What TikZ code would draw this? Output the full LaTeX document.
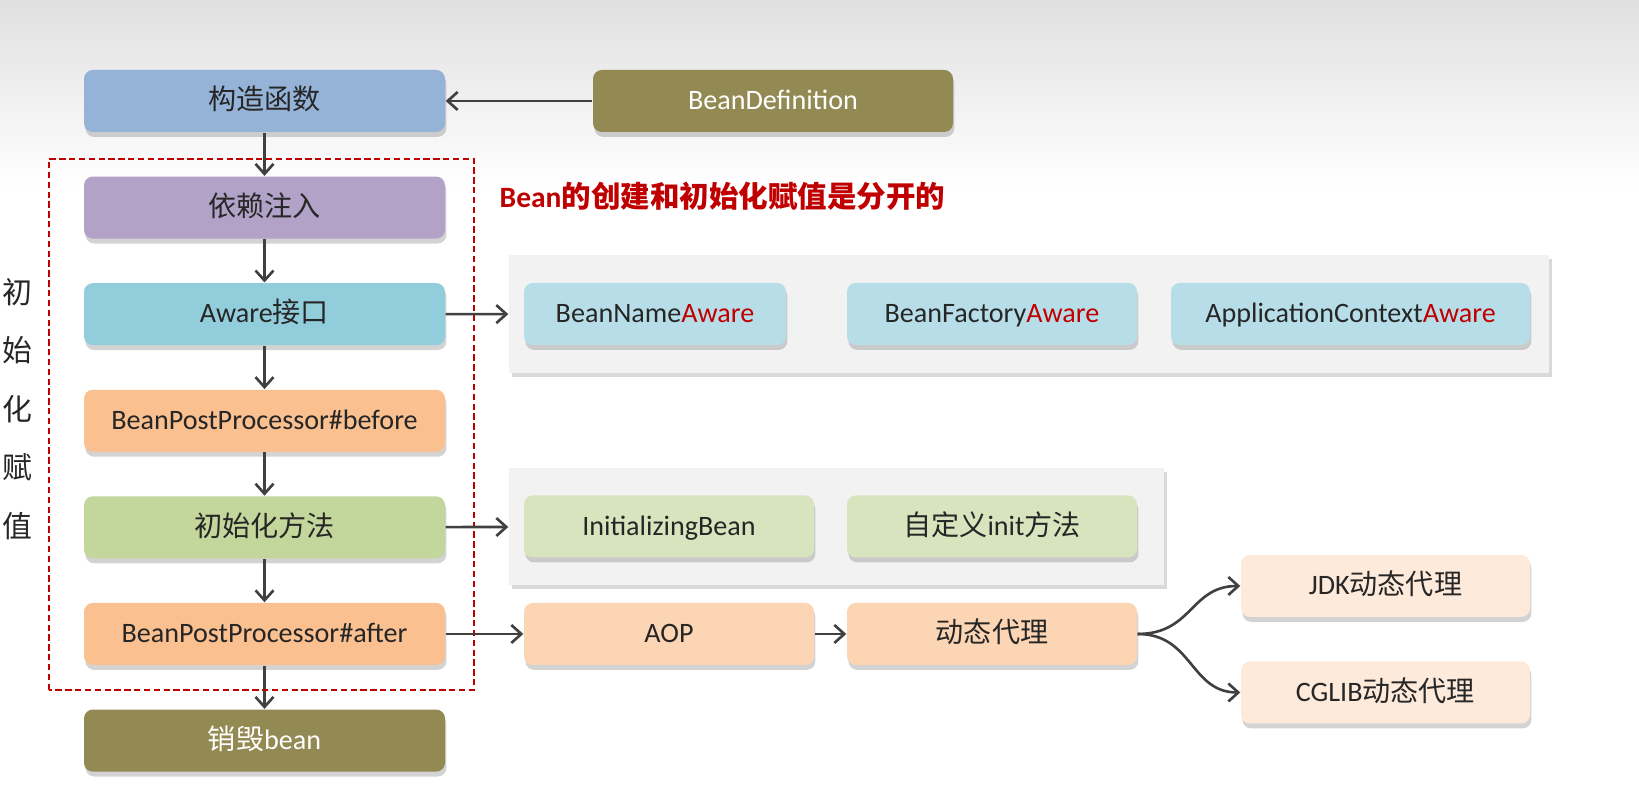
\documentclass[tikz,border=0pt]{standalone}
\usepackage{fontspec}
\setmainfont{Carlito}
\newfontfamily\cjk{Noto Sans CJK SC}
\usetikzlibrary{arrows.meta,shadows}
\definecolor{ctorblue}{HTML}{95B3D7}
\definecolor{olive}{HTML}{938953}
\definecolor{dipurple}{HTML}{B3A2C7}
\definecolor{awareblue}{HTML}{92CDDC}
\definecolor{bpporange}{HTML}{FAC090}
\definecolor{initgreen}{HTML}{C3D69B}
\definecolor{lightaware}{HTML}{B7DEE8}
\definecolor{lightgreen}{HTML}{D7E4BD}
\definecolor{peach}{HTML}{FCD5B5}
\definecolor{lightpeach}{HTML}{FDEADA}
\definecolor{panelgray}{HTML}{F2F2F2}
\definecolor{bgtop}{HTML}{E0E0E0}
\definecolor{darktext}{HTML}{262626}
\definecolor{awred}{HTML}{C00000}
\definecolor{arrowgray}{HTML}{404040}
\newcommand\zh[1]{{\cjk #1}}
\newcommand\aw{\textcolor{awred}{Aware}}
\tikzset{
  stage/.style={rounded corners=2.5pt,minimum width=3.61cm,minimum height=0.62cm,inner sep=0pt,text height=6.3pt,text depth=1.3pt,font=\fontsize{8}{10}\selectfont,text=darktext,drop shadow={shadow xshift=0.4pt,shadow yshift=-1.4pt,opacity=0.35}},
  subbox/.style={stage,minimum width=2.9cm},
  panel/.style={fill=panelgray,inner sep=0pt,drop shadow={shadow xshift=0.8pt,shadow yshift=-1.2pt,opacity=0.3}},
  initframe/.style={draw=awred,dash pattern=on 1.8pt off 1pt,line width=0.7pt},
  arr/.style={-{Straight Barb[length=1mm,width=1.8mm]},draw=arrowgray,line width=0.75pt}
}
\begin{document}
\begin{tikzpicture}[x=1cm,y=1cm]
\path[use as bounding box] (0,0) rectangle (16.39,7.89);
\fill[top color=bgtop,bottom color=white] (0,7.89) rectangle (16.39,6.0);

% main flow
\node[stage,fill=ctorblue] (ctor) at (2.645,6.88) {\zh{构造函数}};
\node[stage,fill=olive,text=white,minimum width=3.6cm] (bdef) at (7.73,6.88) {BeanDefinition};
\node[stage,fill=dipurple] (di) at (2.645,5.814) {\zh{依赖注入}};
\node[stage,fill=awareblue] (aware) at (2.645,4.748) {Aware\zh{接口}};
\node[stage,fill=bpporange] (before) at (2.645,3.682) {BeanPostProcessor\#before};
\node[stage,fill=initgreen] (init) at (2.645,2.616) {\zh{初始化方法}};
\node[stage,fill=bpporange] (after) at (2.645,1.55) {BeanPostProcessor\#after};
\node[stage,fill=olive,text=white] (destroy) at (2.645,0.484) {\zh{销毁}bean};
\draw[arr] (bdef)--(ctor); \draw[arr] (ctor)--(di); \draw[arr] (di)--(aware); \draw[arr] (aware)--(before);
\draw[arr] (before)--(init); \draw[arr] (init)--(after); \draw[arr] (after)--(destroy);

\draw[initframe] (0.49,0.99) rectangle (4.74,6.30);
\node[font=\fontsize{8.5}{16.6}\selectfont\cjk,text=darktext,align=center,inner sep=0pt] (initlabel) at (0.17,3.80) {初\\始\\化\\赋\\值};
\node[font=\fontsize{8.4}{10}\selectfont\bfseries,text=awred,anchor=west,inner sep=0pt] (note) at (4.99,5.93) {Bean\zh{的创建和初始化赋值是分开的}};

% aware interfaces
\node[panel,minimum width=10.4cm,minimum height=1.18cm] (awarepanel) at (10.29,4.75) {};
\node[subbox,fill=lightaware,minimum width=2.62cm] (bna) at (6.55,4.75) {BeanName\aw};
\node[subbox,fill=lightaware] (bfa) at (9.92,4.75) {BeanFactory\aw};
\node[subbox,fill=lightaware,minimum width=3.59cm] (aca) at (13.505,4.75) {ApplicationContext\aw};
\draw[arr] (aware)--(awarepanel);

% init methods
\node[panel,minimum width=6.55cm,minimum height=1.17cm] (initpanel) at (8.365,2.625) {};
\node[subbox,fill=lightgreen] (ib) at (6.69,2.625) {InitializingBean};
\node[subbox,fill=lightgreen] (custom) at (9.92,2.625) {\zh{自定义}init\zh{方法}};
\draw[arr] (init)--(initpanel);

% proxy
\node[subbox,fill=peach] (aop) at (6.69,1.55) {AOP};
\node[subbox,fill=peach] (proxy) at (9.92,1.55) {\zh{动态代理}};
\node[subbox,fill=lightpeach,minimum width=2.89cm] (jdk) at (13.855,2.03) {JDK\zh{动态代理}};
\node[subbox,fill=lightpeach,minimum width=2.89cm] (cglib) at (13.855,0.965) {CGLIB\zh{动态代理}};
\draw[arr] (after)--(aop); \draw[arr] (aop)--(proxy);
\draw[arr] (proxy.east) .. controls +(0.55,0) and +(-0.5,0) .. (jdk.west);
\draw[arr] (proxy.east) .. controls +(0.55,0) and +(-0.5,0) .. (cglib.west);
\end{tikzpicture}
\end{document}
